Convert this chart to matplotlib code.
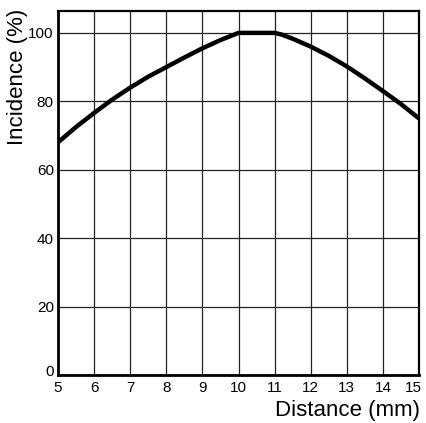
import matplotlib.pyplot as plt
import matplotlib.transforms as mtransforms

# Curve
distance = [5, 5.5, 6, 6.5, 7, 7.5, 8, 8.5, 9, 9.5, 10, 11, 11.2, 11.5, 12, 12.5, 13, 13.5, 14, 14.5, 15]
incidence = [68, 72.5, 76.6, 80.5, 84, 87.2, 90, 92.8, 95.5, 97.9, 100, 100, 99.5, 98.3, 96, 93.3, 90.2, 86.7, 83, 79.2, 75]

x_ticks = [5, 6, 7, 8, 9, 10, 11, 12, 13, 14, 15]
y_ticks = [0, 20, 40, 60, 80, 100]

plt.rcParams['font.family'] = ['Liberation Sans', 'DejaVu Sans']

fig = plt.figure(figsize=(4.26, 4.23), dpi=100)
W, H = 426, 423
ax = fig.add_axes([58 / W, 1 - 375 / H, (419 - 58) / W, (375 - 11) / H])

ax.plot(distance, incidence, color='black', linewidth=3.2, solid_capstyle='butt', zorder=3)

ax.set_xlim(5, 15)
ax.set_ylim(0, 106.4)
ax.set_xticks(x_ticks)
ax.set_yticks(y_ticks)
ax.grid(True, color='#222222', linewidth=0.9)
ax.tick_params(length=0, labelsize=11, colors='black', pad=3)
ax.tick_params(axis='x', pad=4)

for side in ['left', 'bottom']:
    ax.spines[side].set_linewidth(2.0)
for side in ['top', 'right']:
    ax.spines[side].set_linewidth(1.6)

# nudge edge labels like the reference
xl = ax.get_xticklabels()
xl[-1].set_transform(xl[-1].get_transform() + mtransforms.ScaledTranslation(-6 / 100, 0, fig.dpi_scale_trans))
yl = ax.get_yticklabels()
yl[0].set_transform(yl[0].get_transform() + mtransforms.ScaledTranslation(0, 5 / 100, fig.dpi_scale_trans))

fig.text(18 / W, 1 - 9 / H, 'Incidence (%)', rotation=90, ha='center', va='top', fontsize=16)
fig.text(420 / W, 1 - 410 / H, 'Distance (mm)', ha='right', va='center', fontsize=16)

fig.savefig('out.png', dpi=100)
